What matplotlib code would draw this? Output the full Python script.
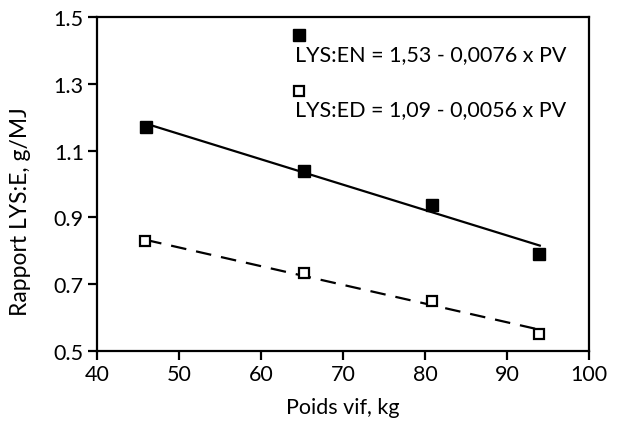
import numpy as np
import matplotlib.pyplot as plt

plt.rcParams['font.family'] = ['Lato', 'DejaVu Sans']

# live weight (kg) and lysine:energy ratios (g/MJ)
pv_en = [46, 65.2, 80.8, 93.9]
lys_en = [1.17, 1.04, 0.937, 0.79]
pv_ed = [45.9, 65.2, 80.8, 93.9]
lys_ed = [0.83, 0.733, 0.65, 0.551]

# regression coefficients: ratio = a - b * PV
coef_en = (1.53, 0.0076)
coef_ed = (1.09, 0.0056)
label_en = 'LYS:EN = 1,53 - 0,0076 x PV'
label_ed = 'LYS:ED = 1,09 - 0,0056 x PV'

xticks = [40, 50, 60, 70, 80, 90, 100]
yticks = [0.5, 0.7, 0.9, 1.1, 1.3, 1.5]

fs = 15.5

fig = plt.figure(figsize=(6.41, 4.27), dpi=100)
ax = fig.add_axes([97/641, 1-352/427, (589-97)/641, (352-18)/427])

xx = np.array([46, 94])
ax.plot(xx, coef_en[0] - coef_en[1]*xx, color='black', lw=1.6)
ax.plot(xx, coef_ed[0] - coef_ed[1]*xx, color='black', lw=1.6, dashes=(7, 4.5))

ax.plot(pv_en, lys_en, 's', ms=8.5, mfc='black', mec='black', ls='none', zorder=3)
ax.plot(pv_ed, lys_ed, 's', ms=7.5, mfc='white', mec='black', mew=1.6, ls='none', zorder=3)

# equation labels with their marker above
ax.plot([64.6], [1.446], 's', ms=8, mfc='black', mec='black')
ax.text(64.1, 1.39, label_en, fontsize=fs, va='center', ha='left')
ax.plot([64.6], [1.278], 's', ms=7, mfc='white', mec='black', mew=1.6)
ax.text(64.1, 1.225, label_ed, fontsize=fs, va='center', ha='left')

ax.set_xlim(40, 100)
ax.set_ylim(0.5, 1.5)
ax.set_xticks(xticks)
ax.set_yticks(yticks)
ax.set_yticklabels([f'{v:.1f}' for v in yticks])
ax.tick_params(direction='out', length=6.5, width=1.6, labelsize=fs, pad=3)
for s in ax.spines.values():
    s.set_linewidth(1.6)

ax.set_xlabel('Poids vif, kg', fontsize=fs, labelpad=9)
ax.set_ylabel('Rapport LYS:E, g/MJ', fontsize=16.5)
ax.yaxis.set_label_coords(-0.135, 0.42)

plt.savefig('out.png', dpi=100)
